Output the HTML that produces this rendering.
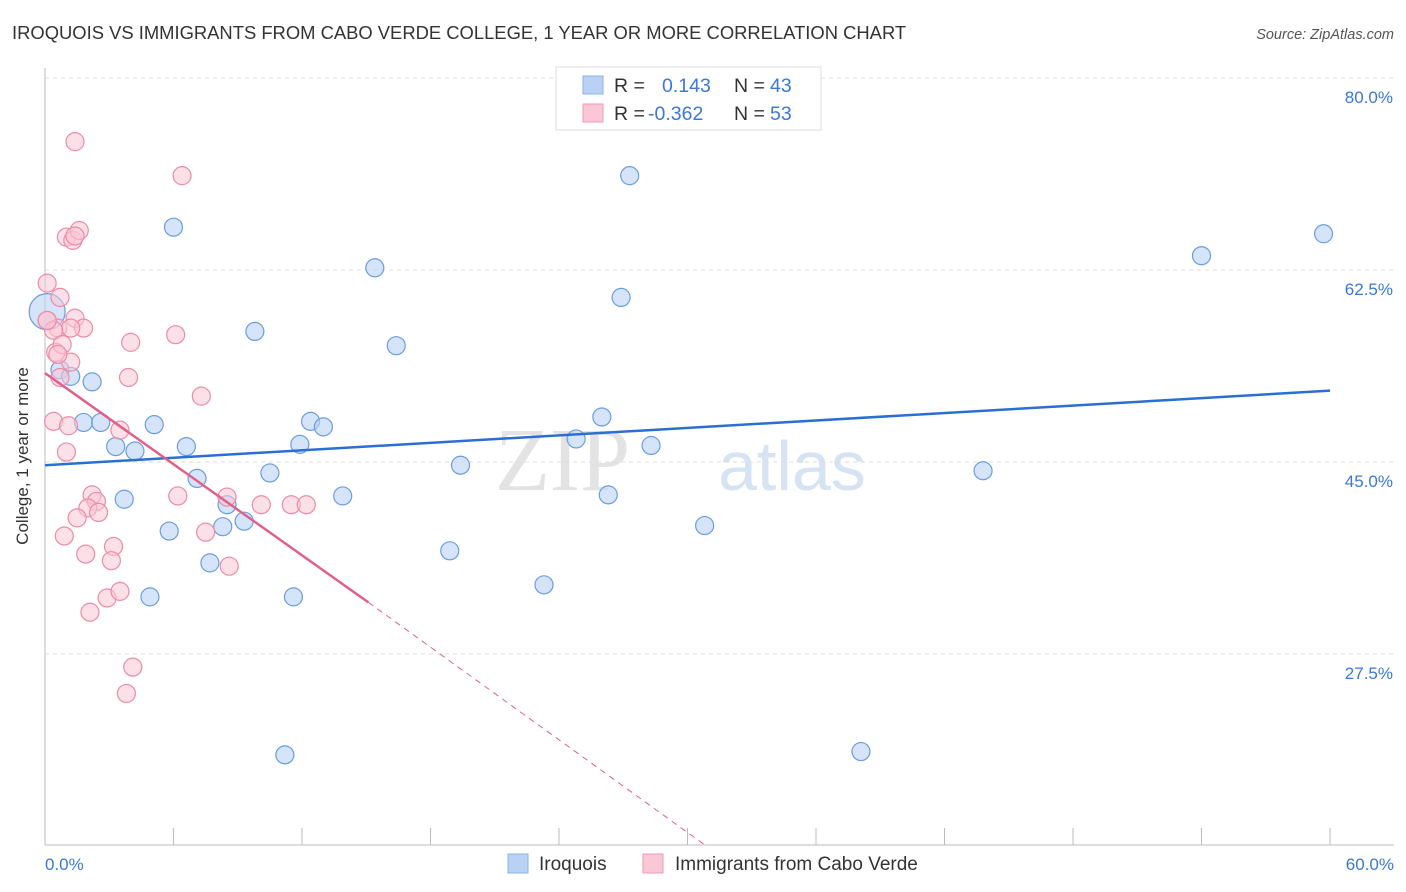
<!DOCTYPE html>
<html><head><meta charset="utf-8"><style>
body{margin:0;background:#fff;font-family:"Liberation Sans",sans-serif}
svg{display:block}
</style></head><body>
<svg width="1406" height="892">
<text x="12" y="39" font-size="18.4" fill="#333">IROQUOIS VS IMMIGRANTS FROM CABO VERDE COLLEGE, 1 YEAR OR MORE CORRELATION CHART</text>
<text x="1394" y="39" font-size="14.5" fill="#555" font-style="italic" text-anchor="end">Source: ZipAtlas.com</text>
<text x="630" y="490" font-size="90" fill="#e3e3e3" font-family="Liberation Serif,serif" text-anchor="end">ZIP</text>
<text x="718" y="490" font-size="70" fill="#d5e3f3">atlas</text>
<g id="grid"></g>
<line x1="45" y1="68" x2="45" y2="845" stroke="#bbb"/>
<line x1="45" y1="845" x2="1394" y2="845" stroke="#bbb"/>
<g id="xt"></g>
<text x="28" y="456" font-size="17" fill="#333" text-anchor="middle" transform="rotate(-90 28 456)">College, 1 year or more</text>
<text x="45" y="870" font-size="17" fill="#3b78d8">0.0%</text>
<text x="1394" y="870" font-size="17" fill="#3b78d8" text-anchor="end">60.0%</text>
<g id="pts"></g>
<g id="lines"></g>
<g>
<rect x="556" y="67" width="265" height="63" fill="#fff" stroke="#ddd"/>
<rect x="583" y="76" width="20" height="18" fill="#b9d2f4" stroke="#8cb0e6"/>
<rect x="583" y="104" width="20" height="18" fill="#f9c7d6" stroke="#ee9ab3"/>
<text x="614" y="92" font-size="19.5" fill="#333">R = <tspan x="662" fill="#3b78d8">0.143</tspan><tspan x="734" fill="#333">N = </tspan><tspan x="770" fill="#3b78d8">43</tspan></text>
<text x="614" y="120" font-size="19.5" fill="#333">R = <tspan x="648" fill="#3b78d8">-0.362</tspan><tspan x="734" fill="#333">N = </tspan><tspan x="770" fill="#3b78d8">53</tspan></text>
</g>
<g>
<rect x="508" y="854" width="20" height="19" fill="#b9d2f4" stroke="#8cb0e6"/>
<text x="539" y="870" font-size="19" fill="#333">Iroquois</text>
<rect x="643" y="854" width="20" height="19" fill="#f9c7d6" stroke="#ee9ab3"/>
<text x="675" y="870" font-size="19" fill="#333">Immigrants from Cabo Verde</text>
</g>
</svg>
<script>
const yTicks=[80,62.5,45,27.5];
const xTicks=[0,6,12,18,24,30,36,42,48,54,60];
const blueX=[0.1,0.7,1.2,2.2,1.8,2.6,3.3,4.2,5.1,3.7,5.8,4.9,6.0,6.6,7.1,7.7,8.5,8.3,9.3,9.8,10.5,11.6,11.2,11.9,12.4,13.0,13.9,15.4,16.4,18.9,19.4,23.3,24.8,26.0,26.3,26.9,27.3,28.3,30.8,38.1,43.8,54.0,59.7];
const blueY=[58.7,53.4,52.8,52.3,48.6,48.6,46.4,46.0,48.4,41.6,38.7,32.7,66.4,46.4,43.5,35.8,41.1,39.1,39.6,56.9,44.0,32.7,18.3,46.6,48.7,48.2,41.9,62.7,55.6,36.9,44.7,33.8,47.1,49.1,42.0,60.0,71.1,46.5,39.2,18.6,44.2,63.8,65.8];
const pinkX=[1.4,6.4,1.0,1.3,1.6,1.4,0.1,0.7,0.1,0.6,1.4,1.8,1.2,0.4,0.5,0.8,1.2,0.6,0.7,4.0,6.1,3.9,7.3,0.4,1.1,3.5,1.0,2.2,2.4,2.0,2.5,1.5,6.2,8.5,10.1,11.5,12.2,0.9,7.5,1.9,3.2,3.1,8.6,2.9,3.5,2.1,4.1,3.8,0.1];
const pinkY=[74.2,71.1,65.5,65.2,66.1,65.6,61.3,60.0,57.9,57.2,58.1,57.2,57.2,57.0,55.0,55.7,54.1,54.8,52.7,55.9,56.6,52.7,51.0,48.7,48.3,47.9,45.9,42.0,41.4,40.8,40.4,39.9,41.9,41.8,41.1,41.1,41.1,38.25,38.6,36.6,37.3,36.0,35.5,32.6,33.2,31.3,26.3,23.9,57.9];
const X=v=>45+v/60*1285, Y=v=>78+(80-v)*10.97;
const NS='http://www.w3.org/2000/svg';
function mk(t,a,p){const e=document.createElementNS(NS,t);for(const k in a)e.setAttribute(k,a[k]);document.getElementById(p).appendChild(e);return e;}
yTicks.forEach(v=>{
 const l=mk('line',{x1:45,x2:1394,y1:Y(v),y2:Y(v),stroke:'#ddd','stroke-dasharray':'4,4'},'grid');
 
 
 const t=mk('text',{x:1393,y:Y(v)+25,'font-size':17,fill:'#3b78d8','text-anchor':'end'},'grid');
 t.textContent=v.toFixed(1)+'%';
 
 
});
xTicks.forEach(v=>{
 const l=mk('line',{x1:X(v),x2:X(v),y1:828,y2:845,stroke:'#bbb'},'xt');
 
 
});
blueX.forEach((v,i)=>{
 const c=mk('circle',{cx:X(v),cy:Y(blueY[i]),r:i==0?18:9,fill:'#b9d2f4','fill-opacity':0.6,stroke:'#6a9de0','stroke-width':1.2},'pts');
 
 
});
pinkX.forEach((v,i)=>{
 const c=mk('circle',{cx:X(v),cy:Y(pinkY[i]),r:9,fill:'#f9c7d6','fill-opacity':0.55,stroke:'#ec8aa8','stroke-width':1.2},'pts');
 
 
});
let l=mk('line',{x1:X(0),y1:Y(44.7),x2:X(60),y2:Y(51.5),stroke:'#2a6fd4','stroke-width':2.5},'lines');


l=mk('line',{x1:X(0),y1:Y(53.1),x2:X(15.1),y2:Y(32.2),stroke:'#e0608a','stroke-width':2.5},'lines');


l=mk('line',{x1:X(15.1),y1:Y(32.2),x2:X(30.8),y2:Y(10.1),stroke:'#e0608a','stroke-width':1,'stroke-dasharray':'6,5'},'lines');


</script>
</body></html>
